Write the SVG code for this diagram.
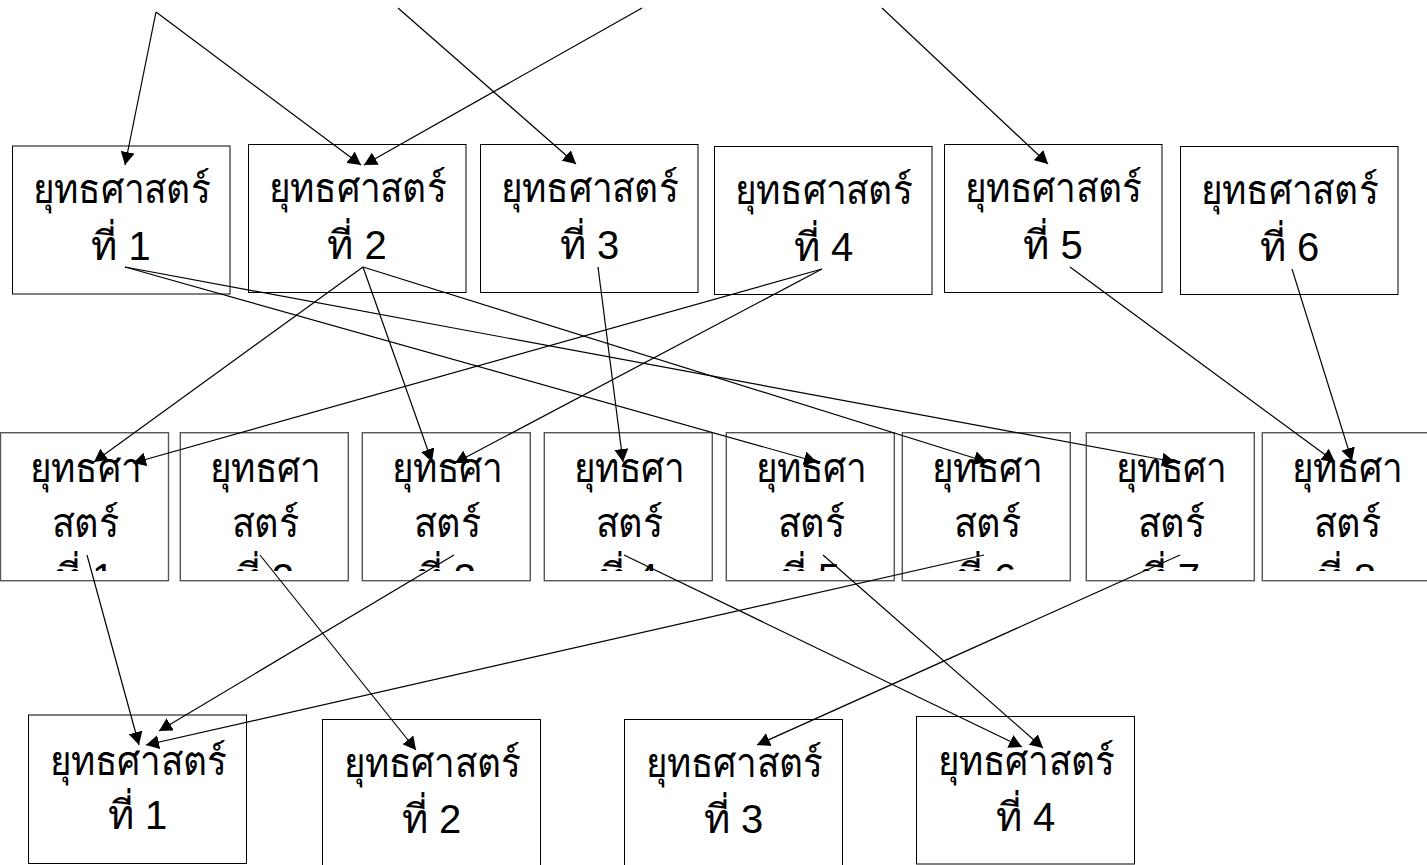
<svg xmlns="http://www.w3.org/2000/svg" width="1427" height="865" viewBox="0 0 1427 865">
<style>
.box{fill:#fff;stroke:#000;stroke-width:1}
.mbox{fill:#fff;stroke:#555;stroke-width:1.4}
.t{font-family:"Liberation Sans","DejaVu Sans",sans-serif;font-size:40px;fill:#000;text-anchor:middle}
.c line{stroke:#000;stroke-width:1.2;fill:none;marker-end:url(#ah)}
</style>
<defs>
<marker id="ah" viewBox="0 0 13 14" refX="13" refY="7" markerWidth="13" markerHeight="14" markerUnits="userSpaceOnUse" orient="auto">
<path d="M0,0 L13,7 L0,14 z" fill="#000"/>
</marker>
<clipPath id="mc"><rect x="0" y="432" width="1427" height="139"/></clipPath>
</defs>
<rect width="1427" height="865" fill="#fff"/>
<!-- top row -->
<g id="t1"><rect class="box" x="12.5" y="146" width="217.5" height="148"/><text class="t" x="121.5" y="203" textLength="177" lengthAdjust="spacingAndGlyphs">ยุทธศาสตร์</text><text class="t" x="121" y="259.5">ที่ 1</text></g>
<g id="t2"><rect class="box" x="248.5" y="144.5" width="217.5" height="148"/><text class="t" x="357.5" y="201.5" textLength="177" lengthAdjust="spacingAndGlyphs">ยุทธศาสตร์</text><text class="t" x="357" y="258.5">ที่ 2</text></g>
<g id="t3"><rect class="box" x="480.5" y="144.5" width="217.5" height="148"/><text class="t" x="589.5" y="201.5" textLength="177" lengthAdjust="spacingAndGlyphs">ยุทธศาสตร์</text><text class="t" x="589.5" y="259">ที่ 3</text></g>
<g id="t4"><rect class="box" x="714.5" y="146.5" width="217.5" height="148"/><text class="t" x="823.5" y="203.5" textLength="177" lengthAdjust="spacingAndGlyphs">ยุทธศาสตร์</text><text class="t" x="823.5" y="260.5">ที่ 4</text></g>
<g id="t5"><rect class="box" x="944.5" y="144.5" width="217.5" height="148"/><text class="t" x="1053" y="201.5" textLength="177" lengthAdjust="spacingAndGlyphs">ยุทธศาสตร์</text><text class="t" x="1053" y="258.5">ที่ 5</text></g>
<g id="t6"><rect class="box" x="1180.5" y="146.5" width="217.5" height="148"/><text class="t" x="1289.5" y="203.5" textLength="177" lengthAdjust="spacingAndGlyphs">ยุทธศาสตร์</text><text class="t" x="1289.5" y="260.5">ที่ 6</text></g>
<!-- middle row -->
<g id="m1"><rect class="mbox" x="0.5" y="432.7" width="168" height="148"/><g clip-path="url(#mc)"><text class="t" x="85.5" y="481.7" textLength="111" lengthAdjust="spacingAndGlyphs">ยุทธศา</text><text class="t" x="85" y="536.7" textLength="67" lengthAdjust="spacingAndGlyphs">สตร์</text><text class="t" x="84.5" y="591.7">ที่ 1</text></g></g>
<g id="m2"><rect class="mbox" x="180.3" y="432.7" width="168" height="148"/><g clip-path="url(#mc)"><text class="t" x="265.3" y="481.7" textLength="111" lengthAdjust="spacingAndGlyphs">ยุทธศา</text><text class="t" x="265" y="536.7" textLength="67" lengthAdjust="spacingAndGlyphs">สตร์</text><text class="t" x="264.3" y="591.7">ที่ 2</text></g></g>
<g id="m3"><rect class="mbox" x="362.3" y="432.7" width="168" height="148"/><g clip-path="url(#mc)"><text class="t" x="447.3" y="481.7" textLength="111" lengthAdjust="spacingAndGlyphs">ยุทธศา</text><text class="t" x="447" y="536.7" textLength="67" lengthAdjust="spacingAndGlyphs">สตร์</text><text class="t" x="446.3" y="591.7">ที่ 3</text></g></g>
<g id="m4"><rect class="mbox" x="544.3" y="432.7" width="168" height="148"/><g clip-path="url(#mc)"><text class="t" x="629.3" y="481.7" textLength="111" lengthAdjust="spacingAndGlyphs">ยุทธศา</text><text class="t" x="629" y="536.7" textLength="67" lengthAdjust="spacingAndGlyphs">สตร์</text><text class="t" x="628.3" y="591.7">ที่ 4</text></g></g>
<g id="m5"><rect class="mbox" x="726.3" y="432.7" width="168" height="148"/><g clip-path="url(#mc)"><text class="t" x="811.3" y="481.7" textLength="111" lengthAdjust="spacingAndGlyphs">ยุทธศา</text><text class="t" x="811" y="536.7" textLength="67" lengthAdjust="spacingAndGlyphs">สตร์</text><text class="t" x="810.3" y="591.7">ที่ 5</text></g></g>
<g id="m6"><rect class="mbox" x="902.3" y="432.7" width="168" height="148"/><g clip-path="url(#mc)"><text class="t" x="987.3" y="481.7" textLength="111" lengthAdjust="spacingAndGlyphs">ยุทธศา</text><text class="t" x="987" y="536.7" textLength="67" lengthAdjust="spacingAndGlyphs">สตร์</text><text class="t" x="986.3" y="591.7">ที่ 6</text></g></g>
<g id="m7"><rect class="mbox" x="1086.3" y="432.7" width="168" height="148"/><g clip-path="url(#mc)"><text class="t" x="1171.3" y="481.7" textLength="111" lengthAdjust="spacingAndGlyphs">ยุทธศา</text><text class="t" x="1171" y="536.7" textLength="67" lengthAdjust="spacingAndGlyphs">สตร์</text><text class="t" x="1170.3" y="591.7">ที่ 7</text></g></g>
<g id="m8"><rect class="mbox" x="1262.3" y="432.7" width="168" height="148"/><g clip-path="url(#mc)"><text class="t" x="1347.3" y="481.7" textLength="111" lengthAdjust="spacingAndGlyphs">ยุทธศา</text><text class="t" x="1347" y="536.7" textLength="67" lengthAdjust="spacingAndGlyphs">สตร์</text><text class="t" x="1346.3" y="591.7">ที่ 8</text></g></g>
<!-- bottom row -->
<g id="b1"><rect class="box" x="28.5" y="715" width="218" height="148.5"/><text class="t" x="138" y="774.5" textLength="176" lengthAdjust="spacingAndGlyphs">ยุทธศาสตร์</text><text class="t" x="137.5" y="829">ที่ 1</text></g>
<g id="b2"><rect class="box" x="322.5" y="719.5" width="218" height="148"/><text class="t" x="432" y="777" textLength="176" lengthAdjust="spacingAndGlyphs">ยุทธศาสตร์</text><text class="t" x="431.5" y="833">ที่ 2</text></g>
<g id="b3"><rect class="box" x="624.5" y="719.5" width="218" height="148"/><text class="t" x="734" y="777" textLength="176" lengthAdjust="spacingAndGlyphs">ยุทธศาสตร์</text><text class="t" x="733.5" y="833">ที่ 3</text></g>
<g id="b4"><rect class="box" x="916.5" y="716.5" width="218" height="147.5"/><text class="t" x="1026" y="774.5" textLength="176" lengthAdjust="spacingAndGlyphs">ยุทธศาสตร์</text><text class="t" x="1025.5" y="830.5">ที่ 4</text></g>
<!-- connectors -->
<g id="connectors" class="c">
<line x1="156" y1="12" x2="125" y2="165"/>
<line x1="156" y1="12" x2="361" y2="165"/>
<line x1="398" y1="8" x2="576" y2="164"/>
<line x1="642" y1="8" x2="364" y2="165"/>
<line x1="882" y1="8" x2="1048" y2="164"/>
<line x1="363" y1="267" x2="94" y2="462"/>
<line x1="822" y1="269" x2="133" y2="463"/>
<line x1="363" y1="267" x2="432" y2="462"/>
<line x1="822" y1="269" x2="455" y2="463"/>
<line x1="598" y1="267" x2="623" y2="462"/>
<line x1="125" y1="267" x2="817" y2="462"/>
<line x1="363" y1="267" x2="987" y2="462"/>
<line x1="125" y1="267" x2="1175" y2="462"/>
<line x1="1070" y1="267" x2="1335" y2="462"/>
<line x1="1292" y1="269" x2="1352" y2="461"/>
<line x1="87" y1="555" x2="139" y2="745"/>
<line x1="454" y1="555" x2="159" y2="731"/>
<line x1="984" y1="555" x2="146" y2="745"/>
<line x1="260" y1="555" x2="416" y2="750"/>
<line x1="624" y1="555" x2="1022" y2="747"/>
<line x1="823" y1="555" x2="1043" y2="748"/>
<line x1="1180" y1="555" x2="757" y2="745"/>
</g>
</svg>
